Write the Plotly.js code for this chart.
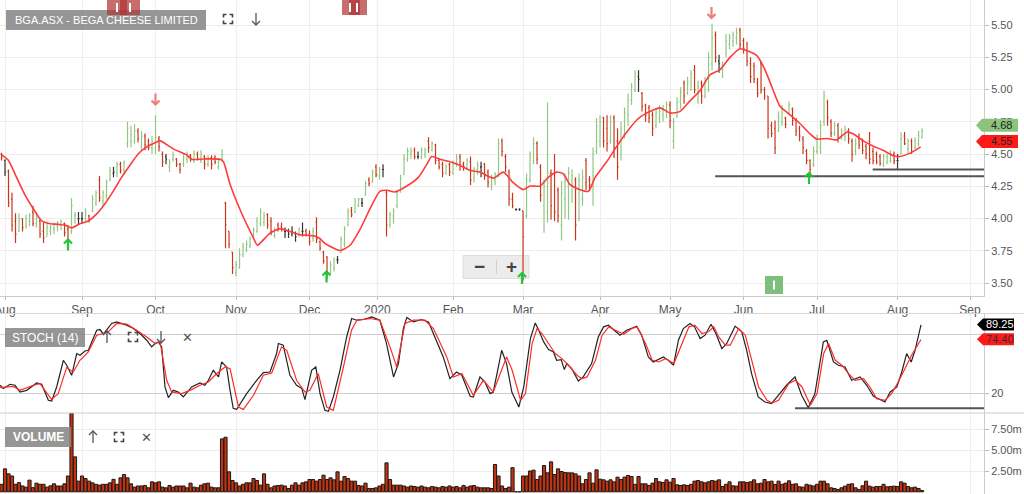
<!DOCTYPE html>
<html><head><meta charset="utf-8">
<script src="https://cdn.plot.ly/plotly-3.0.1.min.js"></script>
<style>html,body{margin:0;padding:0;background:#fff}#chart{width:1024px;height:494px}</style>
</head><body><div id="chart"></div>
<script>
// ---------- DATA (trading-day index: -1 = 31 Jul 2019 ... 262 = 12 Aug 2020) ----------
const monthTickIdx = [0, 22, 43, 66, 87, 106.4, 128, 148, 170, 190, 211, 232, 255, 275.7];
const monthLabels  = ['Aug','Sep','Oct','Nov','Dec','2020','Feb','Mar','Apr','May','Jun','Jul','Aug','Sep'];

const open = [
4.50,4.45,4.37,4.15,3.98,3.90,4.00,3.94,3.98,4.05,
3.96,3.98,3.90,3.86,3.90,3.92,3.94,3.95,3.96,3.92,
3.90,4.02,4.00,4.00,4.00,4.02,4.06,4.12,4.30,4.14,
4.18,4.30,4.35,4.36,4.42,4.38,4.58,4.60,4.60,4.68,
4.56,4.64,4.60,4.55,4.55,4.62,4.50,4.48,4.40,4.46,
4.46,4.42,4.42,4.46,4.49,4.45,4.50,4.45,4.48,4.42,
4.47,4.47,4.40,4.46,4.12,3.90,3.74,3.58,3.62,3.72,
3.76,3.79,3.85,3.90,3.96,3.97,4.03,3.98,3.87,3.95,
3.94,3.90,3.90,3.88,3.88,3.87,3.90,3.90,3.88,3.85,
3.97,3.82,3.74,3.70,3.58,3.62,3.68,3.74,3.80,3.95,
4.06,4.05,4.10,4.12,4.18,4.30,4.28,4.40,4.33,4.38,
4.20,3.95,4.02,4.10,4.22,4.34,4.46,4.50,4.53,4.48,
4.48,4.50,4.60,4.53,4.57,4.45,4.42,4.35,4.42,4.35,
4.42,4.48,4.42,4.39,4.44,4.32,4.38,4.40,4.42,4.36,
4.26,4.30,4.34,4.60,4.48,4.36,4.15,4.07,4.07,4.06,
4.02,4.30,4.45,4.58,4.40,4.10,4.05,4.35,4.35,4.22,
3.95,4.15,4.25,4.30,4.30,4.00,4.15,4.45,4.30,4.25,
4.52,4.60,4.78,4.70,4.60,4.78,4.60,4.50,4.65,4.80,
4.92,5.00,5.10,4.97,4.88,4.86,4.80,4.72,4.78,4.80,
4.82,4.88,4.60,4.80,4.90,5.05,4.97,5.00,5.15,4.92,
5.05,4.95,5.00,5.20,5.42,5.22,5.15,5.28,5.35,5.38,
5.40,5.46,5.38,5.30,5.20,5.18,5.05,5.20,5.00,4.95,
4.72,4.70,4.68,4.75,4.78,4.82,4.85,4.76,4.70,4.62,
4.52,4.45,4.42,4.52,4.55,4.75,4.90,4.75,4.66,4.72,
4.62,4.64,4.68,4.60,4.52,4.62,4.60,4.56,4.60,4.52,
4.50,4.48,4.42,4.44,4.45,4.50,4.45,4.50,4.64,4.54,
4.60,4.55,4.58,4.63];
const high = [
4.51,4.46,4.38,4.20,4.04,4.04,4.00,4.03,4.04,4.10,
4.05,4.00,3.97,3.97,3.95,3.97,3.98,3.99,3.97,3.95,
4.16,4.05,4.05,4.05,4.08,4.03,4.18,4.22,4.33,4.22,
4.30,4.40,4.40,4.44,4.44,4.45,4.75,4.72,4.73,4.70,
4.68,4.66,4.62,4.64,4.80,4.64,4.52,4.50,4.46,4.52,
4.47,4.43,4.50,4.52,4.50,4.53,4.52,4.53,4.49,4.49,
4.49,4.49,4.47,4.54,4.13,3.90,3.74,3.67,3.77,3.81,
3.83,3.86,3.93,4.01,4.08,4.05,4.04,4.01,3.93,3.97,
3.97,3.93,3.92,3.94,3.90,3.93,3.97,3.92,3.91,3.93,
4.01,3.83,3.75,3.71,3.67,3.70,3.71,3.86,3.94,4.08,
4.09,4.16,4.16,4.16,4.29,4.32,4.38,4.42,4.40,4.42,
4.22,4.05,4.08,4.22,4.34,4.50,4.55,4.55,4.55,4.52,
4.55,4.55,4.63,4.60,4.58,4.47,4.44,4.42,4.43,4.45,
4.50,4.50,4.44,4.47,4.48,4.40,4.44,4.44,4.43,4.38,
4.34,4.36,4.62,4.62,4.50,4.38,4.20,4.08,4.08,4.06,
4.35,4.52,4.63,4.60,4.42,4.30,4.90,4.38,4.50,4.24,
4.29,4.35,4.40,4.38,4.32,4.35,4.38,4.47,4.33,4.55,
4.78,4.80,4.79,4.80,4.80,4.80,4.70,4.75,4.86,4.97,
5.05,5.15,5.15,4.98,4.89,4.88,4.83,4.85,4.88,4.88,
4.91,4.91,4.78,4.94,5.02,5.07,5.10,5.15,5.19,5.07,
5.07,5.10,5.29,5.51,5.45,5.27,5.22,5.43,5.43,5.45,
5.48,5.48,5.40,5.37,5.25,5.21,5.09,5.22,5.02,4.95,
4.75,4.76,4.83,4.88,4.79,4.91,4.86,4.78,4.72,4.64,
4.54,4.46,4.56,4.65,4.76,4.99,4.92,4.77,4.75,4.74,
4.70,4.72,4.70,4.62,4.62,4.66,4.62,4.58,4.67,4.55,
4.52,4.50,4.50,4.50,4.53,4.52,4.50,4.67,4.67,4.62,
4.62,4.63,4.68,4.70];
const low = [
4.45,4.33,4.09,3.90,3.81,3.90,3.90,3.92,3.94,3.94,
3.93,3.85,3.81,3.86,3.87,3.88,3.90,3.91,3.86,3.79,
3.88,3.96,3.95,3.96,3.98,3.97,4.05,4.10,4.13,4.10,
4.15,4.29,4.32,4.32,4.35,4.34,4.55,4.55,4.58,4.59,
4.53,4.53,4.53,4.50,4.50,4.52,4.40,4.42,4.36,4.44,
4.40,4.35,4.40,4.43,4.44,4.43,4.45,4.43,4.38,4.40,
4.38,4.42,4.38,4.44,3.77,3.77,3.57,3.55,3.61,3.70,
3.74,3.77,3.84,3.89,3.94,3.94,3.92,3.87,3.85,3.90,
3.90,3.85,3.85,3.86,3.82,3.86,3.86,3.86,3.79,3.82,
3.81,3.75,3.65,3.53,3.57,3.59,3.65,3.73,3.78,3.94,
4.01,4.04,4.09,4.09,4.18,4.25,4.28,4.32,4.30,4.32,
3.86,3.93,3.96,4.08,4.20,4.34,4.44,4.46,4.46,4.46,
4.46,4.47,4.51,4.52,4.42,4.38,4.32,4.34,4.33,4.34,
4.40,4.37,4.37,4.38,4.26,4.28,4.34,4.32,4.30,4.24,
4.22,4.26,4.32,4.48,4.36,4.10,4.08,4.06,4.06,3.52,
4.00,4.28,4.42,4.42,4.13,3.89,3.97,3.99,3.98,3.97,
3.83,4.00,3.99,4.12,3.83,3.98,4.10,4.22,4.22,4.10,
4.50,4.55,4.55,4.52,4.58,4.47,4.30,4.45,4.62,4.72,
4.88,4.98,4.98,4.83,4.75,4.74,4.64,4.70,4.74,4.75,
4.78,4.70,4.54,4.78,4.85,4.89,4.96,4.99,4.97,4.89,
4.89,4.93,4.98,5.15,5.21,5.13,5.09,5.25,5.31,5.33,
5.35,5.32,5.28,5.18,5.05,5.05,4.94,4.97,4.92,4.62,
4.63,4.50,4.67,4.72,4.70,4.80,4.72,4.64,4.60,4.50,
4.42,4.33,4.40,4.50,4.50,4.72,4.72,4.63,4.64,4.59,
4.61,4.60,4.58,4.44,4.49,4.54,4.50,4.46,4.42,4.42,
4.42,4.41,4.40,4.42,4.43,4.42,4.38,4.50,4.57,4.50,
4.50,4.54,4.56,4.62];
const close = [
4.47,4.36,4.12,3.95,3.88,4.00,3.93,4.00,4.02,3.96,
4.01,3.88,3.85,3.93,3.94,3.95,3.96,3.97,3.89,3.83,
4.10,4.03,4.00,4.00,4.05,3.99,4.15,4.20,4.16,4.20,
4.28,4.37,4.36,4.42,4.37,4.43,4.70,4.65,4.68,4.62,
4.64,4.57,4.55,4.60,4.63,4.56,4.44,4.46,4.44,4.49,
4.42,4.38,4.47,4.50,4.46,4.50,4.46,4.50,4.42,4.47,
4.42,4.44,4.45,4.50,3.95,3.80,3.62,3.64,3.72,3.78,
3.80,3.84,3.91,3.98,4.05,4.02,3.95,3.90,3.91,3.92,
3.91,3.90,3.88,3.90,3.86,3.92,3.90,3.88,3.82,3.90,
3.84,3.77,3.67,3.58,3.64,3.68,3.68,3.84,3.92,4.05,
4.03,4.13,4.15,4.12,4.27,4.27,4.36,4.34,4.38,4.38,
3.95,4.03,4.06,4.20,4.31,4.46,4.52,4.52,4.48,4.48,
4.53,4.53,4.55,4.58,4.45,4.40,4.35,4.40,4.36,4.42,
4.47,4.41,4.40,4.45,4.30,4.38,4.41,4.40,4.33,4.28,
4.32,4.34,4.58,4.52,4.40,4.15,4.10,4.07,4.07,3.86,
4.30,4.48,4.58,4.46,4.18,4.25,4.35,4.10,4.05,4.02,
4.20,4.30,4.35,4.33,3.95,4.30,4.32,4.28,4.26,4.50,
4.72,4.75,4.60,4.58,4.75,4.55,4.40,4.70,4.82,4.92,
5.02,5.12,5.08,4.87,4.80,4.78,4.70,4.82,4.83,4.85,
4.88,4.76,4.75,4.90,4.98,4.95,5.06,5.12,5.00,5.02,
4.95,5.06,5.25,5.40,5.25,5.20,5.18,5.38,5.40,5.42,
5.44,5.35,5.32,5.22,5.10,5.08,4.97,5.00,4.95,4.70,
4.66,4.55,4.78,4.82,4.73,4.88,4.76,4.68,4.64,4.55,
4.45,4.38,4.52,4.62,4.72,4.95,4.78,4.66,4.72,4.63,
4.68,4.69,4.62,4.50,4.58,4.57,4.53,4.50,4.46,4.45,
4.44,4.43,4.48,4.48,4.50,4.45,4.45,4.62,4.58,4.60,
4.52,4.60,4.64,4.68];
// bar colour class: u = up (green), d = down (red), n = unchanged (black)
const barClass = (
"dnddduduud"+"udduuuuudd"+"uunnuduudu"+"uunuduuuud"+"udduuddnuu"+"dduudududu"+
"dduuddduuu"+"uuuuuuddud"+"dnnnnunddu"+"dddduunuuu"+"duunududun"+"duuuuuuudn"+
"uududddudu"+"udduduundd"+"uuuddddnnd"+"uuudduuddd"+"uuuuduuddu"+"uuddudduuu"+
"uundddduuu"+"uduuuduudu"+"duuudnuuuu"+"uddddddddd"+"dduududddd"+"dduuuuddud"+
"uudduddddd"+"dduuudnudu"+"duuu").split('');
// volume, millions of shares
const volume = [
0.9,2.76,2.16,1.9,0.9,1.1,0.7,0.56,1.4,0.5,
1.04,0.9,0.9,0.56,0.72,0.96,0.7,0.7,0.96,1.9,
9.48,4.2,1.28,1.9,1.6,1.28,1.08,0.9,0.8,0.9,
0.9,1.08,1.5,0.9,1.68,2.08,1.68,0.96,0.56,0.7,
0.7,0.76,0.48,1.2,1.08,1.2,0.56,0.48,0.76,0.56,
0.7,0.7,0.7,0.48,1.04,0.56,0.48,0.8,0.96,1.04,
0.56,0.48,0.48,6.36,6.56,2.4,1.36,1.08,0.7,0.9,
1.08,1.08,1.6,1.36,0.8,2.16,0.9,0.48,0.7,0.76,
0.8,0.7,0.4,0.8,1.08,0.8,1.08,1.2,1.48,1.48,
1.28,1.48,2.0,1.48,1.68,1.44,2.4,1.28,1.84,1.6,
1.28,1.28,0.76,0.7,1.04,0.4,0.4,0.48,0.7,0.9,
3.48,1.48,0.8,0.8,0.8,0.7,0.56,0.7,0.64,0.56,
0.7,0.56,0.48,0.64,0.56,0.48,0.64,0.56,0.7,0.56,
0.64,0.48,0.76,0.56,0.7,0.76,0.56,0.48,0.48,0.48,
0.4,3.28,1.9,0.7,0.4,0.56,2.9,0,0,1.9,
1.9,2.5,2.6,1.48,1.9,3.16,2.28,3.6,2.08,2.76,
2.44,2.32,2.28,2.28,2.16,1.9,0.96,1.48,2.28,1.04,
2.64,1.52,1.44,1.28,1.44,1.2,1.76,1.48,1.76,1.96,
1.84,0.9,1.84,0.96,0.96,0.76,1.04,1.6,1.2,1.12,
1.44,1.16,1.6,0.84,0.76,0.84,0.76,0.9,1.28,1.36,
1.2,1.08,1.2,1.36,1.28,1.44,0.64,0.9,1.2,0.72,
0.68,1.2,1.2,1.12,1.2,1.44,0.96,1.04,1.48,1.2,
1.28,0.88,1.28,0.9,1.04,1.32,0.9,0.96,0.6,0.56,
0.9,0.8,0.7,0.9,1.28,1.28,0.96,0.48,0.4,0.28,
0.48,0.68,0.9,0.96,0.48,0.28,0.72,1.28,0.68,0.56,
0.64,0.64,0.9,0.6,0.64,0.68,0.64,1.2,1.04,0.64,
0.48,0.56,0.4,0.16];
// moving-average line (red), read at these trading-day positions
const maX = [-0.9,0.9,3.3,5.7,8.1,10.5,12.9,15.2,17.1,19.1,
21.4,23.8,26.2,28.6,30.9,33.3,35.7,38.1,40.5,42.9,
44.3,48.1,51.9,53.3,56.7,61.4,62.4,64.3,66.2,68.6,
70.8,72.1,73.3,75.7,78.6,81.4,84.3,88.1,89.8,91.4,
95.7,98.6,101.4,104.3,107.1,109.1,111.4,114.8,118.1,120.5,
121.9,124.3,128.1,130.9,132.9,135.7,139.5,142.4,145.2,148.1,
150,152.9,155.2,157.6,159.5,161.4,164.3,166.7,168.6,171.9,
174.8,177.6,180.5,182.4,187.1,190,192.9,195.7,198.6,201.4,
204.3,207.1,210,211.9,214.8,217.1,219.1,221.4,224.3,227.1,
230,231.9,234.8,237.6,240.5,242.4,245.2,248.1,250.9,253.8,
255.7,258.6,261.6];
const maY = [4.494,4.454,4.319,4.184,4.076,3.981,3.96,3.955,3.949,3.928,
3.96,3.981,4.036,4.117,4.211,4.319,4.413,4.502,4.556,4.588,
4.602,4.54,4.494,4.459,4.462,4.459,4.44,4.265,4.13,3.981,
3.86,3.793,3.82,3.887,3.922,3.90,3.874,3.866,3.847,3.807,
3.752,3.793,3.914,4.076,4.211,4.219,4.206,4.252,4.319,4.42,
4.48,4.459,4.432,4.40,4.373,4.36,4.313,4.36,4.278,4.224,
4.252,4.252,4.319,4.36,4.346,4.265,4.224,4.211,4.319,4.44,
4.561,4.669,4.764,4.804,4.858,4.818,4.831,4.912,4.993,5.114,
5.155,5.249,5.316,5.303,5.263,5.155,5.02,4.871,4.804,4.737,
4.656,4.616,4.621,4.61,4.669,4.656,4.602,4.561,4.529,4.486,
4.481,4.507,4.556];
// stochastic %K (black)
const kX = [-1.43,-0.48,1.43,2.86,4.29,6.19,9.05,10.48,12.38,13.33,
14.76,16.67,17.62,19.05,20.48,21.43,22.86,23.81,26.19,27.14,
28.1,30.48,31.9,34.76,36.67,38.57,40.48,41.9,42.86,43.81,
44.76,45.71,46.67,48.1,49.5,50.95,53.33,55.7,57.1,58.1,
59.5,61,61.9,63.3,64.3,65.2,66.2,69.05,71.9,73.8,
75.7,77.6,78.1,79.5,81.4,83.3,84.8,85.7,87.6,88.8,
90,91.4,92.4,93.8,95.7,97.6,99.05,100.5,102.4,104.8,
107.1,109,111,112.4,113.8,114.8,116.7,119,121,122.4,
125.2,127.1,129,130.5,132.9,133.8,135.7,137.1,138.6,139.5,
141.9,143.3,144.8,146.8,148.2,150.1,151.5,152.5,153.9,155.3,
156.7,157.6,158.9,159.8,160.5,161.9,163.8,165.2,167.6,169.5,
171,172.4,173.8,175.7,177.6,180.5,181.9,183.8,185.2,188.1,
189.5,191,192.4,193.8,195.7,197,198.6,200,201.7,203.1,
204.8,206.2,208.6,210.5,211.9,213.3,215.2,217.1,219,221.4,
223.3,225.7,227.6,229.5,231.4,233.8,234.8,236.7,238.1,240,
241.9,244.3,246.2,248.1,250,251.4,252.9,254.8,256.2,257.6,
258.9,260,261.7];
const kY = [28.3,25,29.3,28.3,21.5,23.2,30.6,29.3,13.1,12.4,
26.6,53.5,48.5,38.4,60.3,58.6,62.9,63.6,83.8,84.5,
79.8,90.6,92.2,88.9,85.5,80.5,73.7,67,70.4,72,
67,26.6,15.8,23.2,21.5,16.5,26.6,30.6,28.3,33.3,
43.4,36.7,51.8,46.8,23.2,5,4,19.9,33.3,41.1,
41.7,60.3,70.4,68.7,38.4,28.3,25,13.8,43.4,46.8,
19.9,3,2,16.5,43.4,77,95.6,93.9,94.6,97.3,
93.9,70.4,36.7,50.2,85.5,96.7,92.2,94.6,92.2,80.5,
56.9,35,41.7,38.4,17.2,16.5,36.7,31.6,19.9,21.5,
63.6,50.2,21.5,6.4,26.6,75.4,91.2,83.8,72,64.3,
61.9,53.5,54.2,44.1,50.2,45.2,32.6,36.7,50.2,77,
87.2,88.9,84.5,78.8,83.8,87.9,78.8,56.9,51.8,56.9,
53.5,48.5,73.7,85.5,90.6,87.2,75.4,78.8,89.9,80.5,
65.3,70.4,87.9,82.1,63.6,40.1,16.5,11.4,9.8,20.6,
28.3,36.7,18.2,5.7,19.9,72,73.7,51.8,48.5,46.8,
33.3,36.7,28.3,17.2,13.8,11.4,21.5,26.6,41.7,60.3,
51.8,63.6,89.25];
// stochastic %D (red)
const dX = [-1.43,2.38,4.29,8.1,10,13.3,15.2,17.6,19.5,21.4,
23.8,26.2,28.1,29.5,31.9,34.8,37.6,40.5,42.9,44.3,
46.2,47.6,50.5,53.3,55.7,58.1,60.5,62.9,64.3,66.7,
68.1,71,73.8,76.2,79,80.5,83.3,85.7,87.1,89.5,
91.9,93.8,96.7,99,100.5,104.3,107.1,110,111.9,114.3,
116.7,120,122.4,126.2,128.1,130.5,133.8,136.7,139.5,143.3,
144.9,147.3,148.7,150.6,152,153.4,155.3,157.2,159.1,161,
163.4,164.9,166.3,168.7,170.6,172.5,174.4,176.8,179.1,180.6,
183,184.9,186.8,188.7,191.1,193,195.4,197.1,199.1,201,
202.5,203.9,205.8,207.2,209.6,211.5,213.4,215.3,217.7,219.1,
221,223.9,225.8,227.7,230.1,232,233.9,235.3,237.2,239.1,
241,242.9,245.3,247.1,249,251.4,253.3,255.2,257.6,259,
261.7];
const dY = [25.9,27.2,23.2,28.3,29.9,14,19.9,46.1,41.7,53.5,
61.9,78.8,80.5,82.2,90.6,89.9,83.8,77,70.4,72,
33.3,21.5,19.9,23.9,28.3,31.6,40.1,46.8,45.1,6.4,
4,18.2,38.4,40.7,67,63.6,33.3,21.5,23.2,40.1,
6.4,3,46.8,83.8,93.9,95.6,93.9,67,46.8,90.6,
93.9,93.9,85.5,56.9,36.7,40.1,18.2,33.3,21.5,56.9,
43.4,13.1,19.9,70.4,85.5,80.5,70.4,60.3,55.2,48.5,
38.4,35,36.7,53.5,78.8,87.2,83.8,79.8,85.5,87.2,
70.4,53.5,51.8,55.2,50.2,67,87.2,88.9,80.5,82.2,
87.2,77,68.7,68.7,85.5,78.8,53.5,26.6,13.1,10.4,
13.1,29.9,33.3,26.6,8.1,19.9,60.3,70.4,53.5,48.5,
40.1,33.3,35,26.6,14.8,13.1,19.9,31.6,48.5,58.6,
74.4];
const lastPrice = 4.68, lastMA = 4.55, lastK = 89.25, lastD = 74.40;
const supportPrice = [4.327, 4.381];   // horizontal support lines
const supportStoch = 5.05;

// ---------- LAYOUT HELPERS (pixel -> paper) ----------
const W = 1024, H = 494, PW = 984;
const X_RANGE = [-1.43, 279.7];
const FONT = 'Liberation Sans, Arial, sans-serif';
const px = x => x / PW, py = y => 1 - y / H;
const idx = close.map((_, k) => k - 1);

const colors = {u: '#92c883', d: '#c8381c', n: '#333333'};
const traces = [];
['u', 'd', 'n'].forEach(c => {
  const sel = idx.map((_, k) => k).filter(k => barClass[k] === c);
  traces.push({
    type: 'ohlc', xaxis: 'x', yaxis: 'y',
    x: sel.map(k => idx[k]), open: sel.map(k => open[k]), high: sel.map(k => high[k]),
    low: sel.map(k => low[k]), close: sel.map(k => close[k]),
    increasing: {line: {color: colors[c], width: 1.2}},
    decreasing: {line: {color: colors[c], width: 1.2}},
    tickwidth: 0.3, hoverinfo: 'skip', showlegend: false
  });
});
traces.push({type: 'scatter', mode: 'lines', x: maX, y: maY, xaxis: 'x', yaxis: 'y',
  line: {color: '#ff3b3b', width: 1.6, shape: 'spline', smoothing: 0.6}, hoverinfo: 'skip', showlegend: false});
traces.push({type: 'scatter', mode: 'lines', x: kX, y: kY, xaxis: 'x2', yaxis: 'y2',
  line: {color: '#222222', width: 1.2}, hoverinfo: 'skip', showlegend: false});
traces.push({type: 'scatter', mode: 'lines', x: dX, y: dY, xaxis: 'x2', yaxis: 'y2',
  line: {color: '#ff2a2a', width: 1.2}, hoverinfo: 'skip', showlegend: false});
traces.push({type: 'bar', x: idx, y: volume, xaxis: 'x3', yaxis: 'y3', width: 0.9,
  marker: {color: '#c1320e', line: {color: '#1a1a1a', width: 1}}, hoverinfo: 'skip', showlegend: false});

const xCommon = {
  range: X_RANGE, tickmode: 'array', tickvals: monthTickIdx, ticktext: monthLabels,
  showgrid: true, gridcolor: '#efefef', zeroline: false, fixedrange: true,
  rangeslider: {visible: false}
};
const yCommon = {side: 'right', zeroline: false, fixedrange: true, ticks: 'outside', ticklen: 4,
  tickcolor: '#bbbbbb', showline: true, linecolor: '#cccccc', tickfont: {family: FONT, size: 11, color: '#555'}};

const shapes = [], annotations = [];
function rect(x0, y0, x1, y1, fill, layer, line) {
  shapes.push({type: 'rect', xref: 'paper', yref: 'paper', x0: px(x0), x1: px(x1), y0: py(y1), y1: py(y0),
    fillcolor: fill, line: line || {width: 0}, layer: layer || 'above'});
}
function hline(x0, x1, y, color, width) {
  shapes.push({type: 'line', xref: 'paper', yref: 'paper', x0: px(x0), x1: px(x1), y0: py(y), y1: py(y),
    line: {color: color, width: width || 1}, layer: 'above'});
}
function poly(pts, fill, line) {
  const d = pts.map((p, i) => (i ? 'L' : 'M') + px(p[0]) + ',' + py(p[1])).join(' ') + (fill ? ' Z' : '');
  shapes.push({type: 'path', xref: 'paper', yref: 'paper', path: d,
    fillcolor: fill || 'rgba(0,0,0,0)', line: line || {width: 0}, layer: 'above'});
}
function txt(x, y, text, size, color, opts) {
  annotations.push(Object.assign({xref: 'paper', yref: 'paper', x: px(x), y: py(y), text: text,
    showarrow: false, xanchor: 'center', yanchor: 'middle',
    font: {family: FONT, size: size, color: color}}, opts || {}));
}
function arrow(cx, cy, up, len, head, color, width) {
  const s = up ? -1 : 1, tip = cy + s * len / 2, tail = cy - s * len / 2;
  const ln = {color: color, width: width};
  poly([[cx, tail], [cx, tip]], null, ln);
  poly([[cx - head, tip - s * head], [cx, tip], [cx + head, tip - s * head]], null, ln);
}
function fullscreenIcon(cx, cy) {
  const s = 4.5, a = 3, ln = {color: '#444', width: 1.6};
  poly([[cx - s, cy - s + a], [cx - s, cy - s], [cx - s + a, cy - s]], null, ln);
  poly([[cx + s - a, cy - s], [cx + s, cy - s], [cx + s, cy - s + a]], null, ln);
  poly([[cx - s, cy + s - a], [cx - s, cy + s], [cx - s + a, cy + s]], null, ln);
  poly([[cx + s - a, cy + s], [cx + s, cy + s], [cx + s, cy + s - a]], null, ln);
}
function tag(y, x0, x1, h, fill, label, color) {
  poly([[x0, y], [x0 + 6, y - h], [x1, y - h], [x1, y + h], [x0 + 6, y + h]], fill);
  txt((x0 + 6 + x1) / 2 + 1, y, label, 11, color);
}
const yPrice = p => 24 + (5.50 - p) * 123.6;
const yStoch = s => 413 - s * 0.9917;

// panel separators, year line
hline(0, W, 313.5, '#d6d6d6', 1);
hline(0, W, 413, '#cccccc', 1);
shapes.push({type: 'line', xref: 'x', yref: 'paper', x0: monthTickIdx[5], x1: monthTickIdx[5], y0: py(296), y1: 1,
  line: {color: '#c9c9c9', width: 1}, layer: 'below'});
// zoom control (under the bars)
rect(463, 255.5, 529, 278.5, '#ececec', 'below', {color: '#dddddd', width: 1});
shapes.push({type: 'line', xref: 'paper', yref: 'paper', x0: px(496.5), x1: px(496.5), y0: py(260), y1: py(274),
  line: {color: '#cfcfcf', width: 1}, layer: 'below'});
txt(479.5, 266.5, '<b>−</b>', 19, '#444');
txt(511.5, 266.5, '<b>+</b>', 19, '#444');
// support lines
supportPrice.forEach((p, k) => shapes.push({type: 'line', xref: 'x', yref: 'y', x0: k ? 247.9 : 202.9, x1: X_RANGE[1],
  y0: p, y1: p, line: {color: '#555', width: 2}, layer: 'above'}));
shapes.push({type: 'line', xref: 'x2', yref: 'y2', x0: 225.7, x1: X_RANGE[1], y0: supportStoch, y1: supportStoch,
  line: {color: '#555', width: 2}, layer: 'above'});
// title badge + icons
rect(6, 10, 206, 30, 'rgba(135,135,135,0.88)');
txt(106, 20.5, 'BGA.ASX - BEGA CHEESE LIMITED', 11, '#ffffff');
fullscreenIcon(228, 19);
arrow(256, 19, false, 12, 4, '#555', 1.3);
// red event markers at top
rect(107, 0, 127, 15, 'rgba(176,52,52,0.72)');
rect(120, 0, 140, 15, 'rgba(176,52,52,0.72)');
rect(116, 3, 118, 12, '#ffffff'); rect(129, 3, 131, 12, '#ffffff');
rect(342, 0, 360, 15, 'rgba(176,52,52,0.72)');
rect(349, 0, 367, 15, 'rgba(176,52,52,0.72)');
rect(349, 3, 351, 12, '#ffffff'); rect(356, 3, 358, 12, '#ffffff');
// green event marker
rect(765, 276, 783, 294, '#7dbf7d');
rect(773, 280.5, 775, 289.5, '#ffffff');
// signal arrows
[[155.5, 99], [711.5, 12.5]].forEach(p => arrow(p[0], p[1], false, 11, 4, '#f07b7b', 2.2));
[[68, 245], [326.5, 277], [522, 278.5], [809, 178.5]].forEach(p => arrow(p[0], p[1], true, 11, 4, '#22c43a', 2.2));
// stoch badge
rect(5, 328, 85, 347, 'rgba(135,135,135,0.88)');
txt(45, 337.5, 'STOCH (14)', 12, '#ffffff');
arrow(107, 337, true, 12, 4, '#555', 1.3);
fullscreenIcon(133, 337);
arrow(161, 337, false, 12, 4, '#555', 1.3);
txt(187, 337.5, '✕', 13, '#555');
// volume badge
rect(5, 427, 71, 447, 'rgba(135,135,135,0.88)');
txt(38, 437, '<b>VOLUME</b>', 12, '#ffffff');
arrow(93, 437, true, 12, 4, '#555', 1.3);
fullscreenIcon(119, 437);
txt(146, 437.5, '✕', 13, '#555');
// value tags on the right
tag(yPrice(lastPrice), 976, 1018, 6.5, '#8dc47d', String(lastPrice.toFixed(2)), '#222');
tag(yPrice(lastMA), 976, 1018, 6.5, '#ff1a1a', String(lastMA.toFixed(2)), '#222');
tag(yStoch(lastK), 977, 1014, 6, '#000000', String(lastK.toFixed(2)), '#ffffff');
tag(yStoch(lastD), 977, 1014, 6, '#ff1a1a', String(lastD.toFixed(2)), '#333');

const priceTicks = [3.50, 3.75, 4.00, 4.25, 4.50, 4.75, 5.00, 5.25, 5.50];
const layout = {
  width: W, height: H, margin: {l: 0, r: W - PW, t: 0, b: 0},
  paper_bgcolor: '#ffffff', plot_bgcolor: '#ffffff', showlegend: false, hovermode: false,
  bargap: 0.1,
  xaxis: Object.assign({}, xCommon, {anchor: 'y', showline: true, linecolor: '#cccccc', ticks: 'outside', ticklen: 3,
    tickcolor: '#bbbbbb', ticklabeloverflow: 'allow', tickfont: {family: FONT, size: 12, color: '#555'}}),
  xaxis2: Object.assign({}, xCommon, {anchor: 'y2', matches: 'x', showticklabels: false}),
  xaxis3: Object.assign({}, xCommon, {anchor: 'y3', matches: 'x', showticklabels: false}),
  yaxis: Object.assign({}, yCommon, {domain: [1 - 296 / H, 1], range: [3.3994, 5.6942], anchor: 'x',
    tickmode: 'array', tickvals: priceTicks, ticktext: priceTicks.map(v => v.toFixed(2)),
    showgrid: true, gridcolor: '#ececec'}),
  yaxis2: Object.assign({}, yCommon, {domain: [1 - 413 / H, 1 - 314 / H], range: [0.34, 100.17], anchor: 'x2',
    tickmode: 'array', tickvals: [20, 80], ticktext: ['20', ''], showgrid: true, gridcolor: '#cfcfcf'}),
  yaxis3: Object.assign({}, yCommon, {domain: [0, 1 - 413 / H], range: [-0.264, 9.47], anchor: 'x3',
    tickmode: 'array', tickvals: [2.5, 5, 7.5], ticktext: ['2.50m', '5.00m', '7.50m'],
    showgrid: true, gridcolor: '#ececec'}),
  shapes: shapes, annotations: annotations
};
Plotly.newPlot('chart', traces, layout, {staticPlot: true, displayModeBar: false});
</script></body></html>
